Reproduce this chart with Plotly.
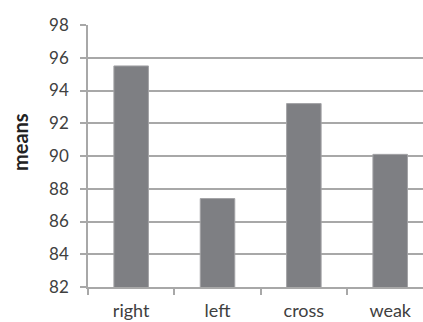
import plotly.graph_objects as go

categories = ["right", "left", "cross", "weak"]
means = [95.5, 87.4, 93.2, 90.1]
y_ticks = [82, 84, 86, 88, 90, 92, 94, 96, 98]

W, H = 423, 322
L, T, B, R = 88, 25, 35, 0

fig = go.Figure(go.Bar(
    x=categories, y=means, width=0.4,
    marker=dict(color="#7e7f83", line=dict(color="#a3a3a6", width=1)),
))

font = dict(family="Lato, Open Sans, sans-serif", size=17, color="#404040")
xfont = dict(family="Lato, Open Sans, sans-serif", size=18, color="#404040")
grid = "#a8a8a8"

fig.update_layout(
    width=W, height=H,
    margin=dict(l=L, r=R, t=T, b=B, pad=0, autoexpand=False),
    plot_bgcolor="white", paper_bgcolor="white",
    font=font, showlegend=False,
    xaxis=dict(
        range=[-0.5, 3.38], showgrid=False, showline=True, linecolor=grid, linewidth=1.5,
        ticks="outside", tickson="boundaries", ticklen=6, tickcolor=grid, tickwidth=1.5,
        ticklabelstandoff=7, tickfont=xfont, automargin=False,
    ),
    yaxis=dict(
        range=[82, 98], tickvals=y_ticks, showgrid=True, gridcolor=grid, gridwidth=1.5,
        showline=True, linecolor=grid, linewidth=1.5, zeroline=False,
        ticks="outside", ticklen=6, tickcolor=grid, tickwidth=1.5,
        ticklabelstandoff=8, tickfont=font, automargin=False,
    ),
    annotations=[dict(
        text="<b>means</b>", textangle=-90, xref="paper", yref="paper",
        x=0, xshift=-68, y=(H - B - 142) / (H - B - T), xanchor="center", yanchor="middle",
        showarrow=False, font=dict(family="Lato, Open Sans, sans-serif", size=20, color="#222222"),
    )],
)

fig.write_html("out.html", config={"displayModeBar": False},
               post_script="document.body.style.margin='0';document.body.style.overflow='hidden';")
